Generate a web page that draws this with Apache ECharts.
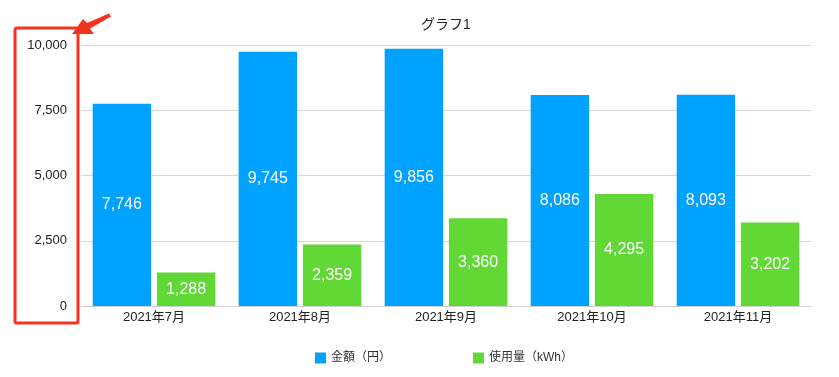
<!DOCTYPE html>
<html>
<head>
<meta charset="utf-8">
<script src="https://cdn.jsdelivr.net/npm/echarts@6/dist/echarts.min.js"></script>
<style>
  html, body { margin: 0; padding: 0; background: #fff; }
  #chart { width: 839px; height: 377px; }
</style>
</head>
<body>
<div id="chart"></div>
<script>
// データ
const months = ['2021年7月', '2021年8月', '2021年9月', '2021年10月', '2021年11月']
const amount = [7746, 9745, 9856, 8086, 8093]      // 金額（円）
const usage = [1288, 2359, 3360, 4295, 3202]       // 使用量（kWh）
const yTicks = [0, 2500, 5000, 7500, 10000]

const font = "'Liberation Sans', 'Noto Sans CJK JP', sans-serif"
const fmt = v => v.toLocaleString('en-US')

const myChart = echarts.init(document.getElementById('chart'))

const option = {
  backgroundColor: '#fff',
  animation: false,
  textStyle: { fontFamily: font },
  title: {
    text: 'グラフ1',
    left: 441,
    top: 13,
    textAlign: 'center',
    textStyle: { fontSize: 14, fontWeight: 'normal', color: '#222', fontFamily: font }
  },
  grid: { left: 81, right: 28, top: 45, bottom: 71 },
  legend: {
    left: 310,
    top: 347,
    itemWidth: 11,
    itemHeight: 11,
    itemGap: 82,
    icon: 'rect',
    textStyle: { fontSize: 12, color: '#333', fontFamily: font }
  },
  xAxis: {
    type: 'category',
    data: months,
    axisTick: { show: false },
    axisLine: { lineStyle: { color: '#cfcfcf' } },
    axisLabel: { color: '#222', fontSize: 13, margin: 5 }
  },
  yAxis: {
    type: 'value',
    min: yTicks[0],
    max: yTicks[yTicks.length - 1],
    interval: 2500,
    axisLine: { show: false },
    axisTick: { show: false },
    splitLine: { lineStyle: { color: '#d8d8d8' } },
    axisLabel: { color: '#222', fontSize: 13, margin: 14, formatter: v => fmt(v) }
  },
  series: [
    {
      name: '金額（円）',
      type: 'bar',
      data: amount,
      barGap: '10%',
      barCategoryGap: '16%',
      itemStyle: { color: '#00a2ff' },
      label: { show: true, position: 'inside', color: '#fff', fontSize: 16, formatter: p => fmt(p.value) }
    },
    {
      name: '使用量（kWh）',
      type: 'bar',
      data: usage,
      itemStyle: { color: '#61d836' },
      label: { show: true, position: 'inside', color: '#fff', fontSize: 16, formatter: p => fmt(p.value) }
    }
  ],
  // 赤い枠と矢印（注釈）
  graphic: [
    {
      type: 'rect',
      shape: { x: 15, y: 28, width: 63, height: 295, r: 2 },
      style: { fill: 'none', stroke: '#f5321e', lineWidth: 3 }
    },
    {
      type: 'polygon',
      shape: {
        points: [[72, 34], [94, 34], [90, 28.5], [111, 16.5], [109, 13.5], [87, 23], [83, 19]]
      },
      style: { fill: '#f5321e' }
    }
  ]
}
myChart.setOption(option)
</script>
</body>
</html>
